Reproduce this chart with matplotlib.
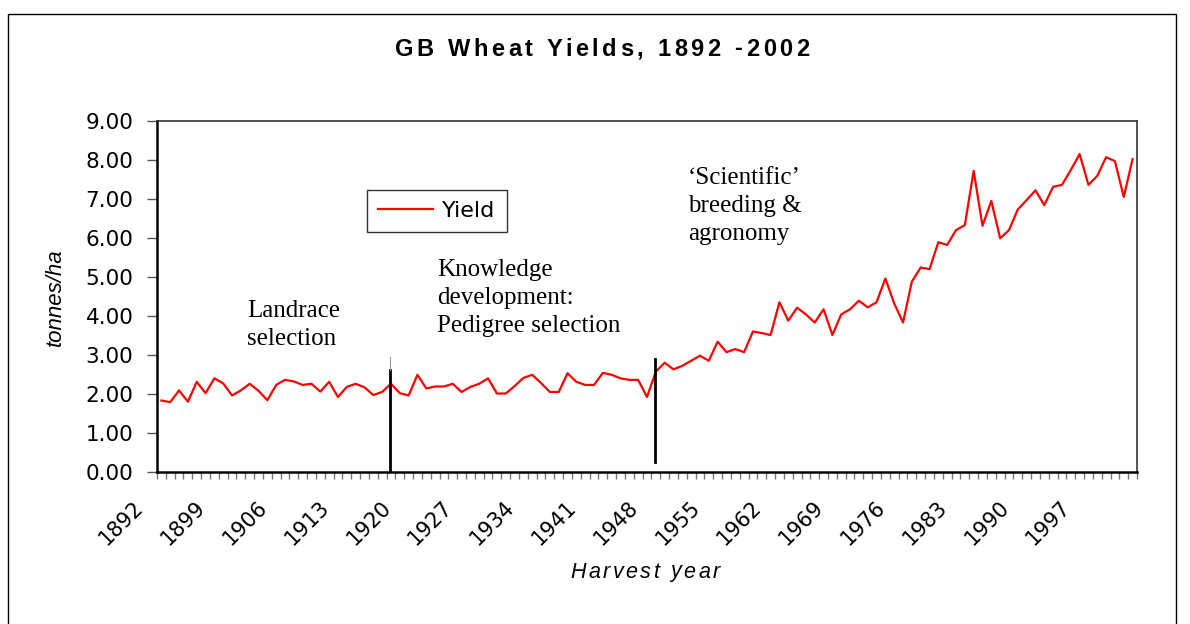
import numpy as np
import matplotlib
matplotlib.use('Agg')
import matplotlib.pyplot as plt
import matplotlib.transforms as mtransforms
from matplotlib.patches import Rectangle
from matplotlib.font_manager import FontProperties

years = list(range(1892, 2003))
yields = [
    1.84, 1.80, 2.10, 1.81, 2.32, 2.03, 2.41, 2.28, 1.97, 2.10,
    2.27, 2.09, 1.85, 2.24, 2.37, 2.33, 2.24, 2.27, 2.07, 2.32,
    1.93, 2.19, 2.27, 2.18, 1.98, 2.06, 2.27, 2.03, 1.97, 2.50,
    2.15, 2.20, 2.20, 2.27, 2.06, 2.19, 2.27, 2.41, 2.02, 2.02,
    2.21, 2.42, 2.50, 2.29, 2.06, 2.06, 2.54, 2.32, 2.24, 2.24,
    2.55, 2.50, 2.41, 2.37, 2.37, 1.93, 2.58, 2.81, 2.64, 2.73,
    2.86, 2.99, 2.86, 3.35, 3.08, 3.16, 3.08, 3.61, 3.57, 3.52,
    4.36, 3.89, 4.22, 4.05, 3.84, 4.18, 3.52, 4.05, 4.18, 4.40,
    4.23, 4.36, 4.97, 4.33, 3.84, 4.89, 5.25, 5.21, 5.90, 5.83,
    6.21, 6.34, 7.73, 6.32, 6.96, 6.00, 6.21, 6.74, 6.98, 7.23,
    6.85, 7.32, 7.37, 7.75, 8.16, 7.37, 7.60, 8.08, 7.98, 7.06,
    8.03,
]
label_years = years[::7]
y_ticks = [0, 1, 2, 3, 4, 5, 6, 7, 8, 9]

# era dividers: (year position, bottom, top)
dividers = [(1917.86, 0.0, 2.62), (1947.85, 0.27, 2.90)]

SANS = 'Liberation Sans'
WIDE = 'DejaVu Sans'
SERIF = 'Liberation Serif'

W, H = 1190, 624


def tracked_text(fig, x_px, y_px, s, track_px, **kw):
    # draw text with extra letter spacing, centred on (x_px, y_px)
    r = fig.canvas.get_renderer()
    prop = FontProperties(family=kw.get('family'), size=kw.get('fontsize'),
                          weight=kw.get('fontweight', 'normal'), style=kw.get('style', 'normal'))

    def width(t):
        return r.get_text_width_height_descent(t, prop, ismath=False)[0]

    bar = width('|')
    starts = [width(s[:i] + '|') - bar if i else 0.0 for i in range(len(s))]
    starts = [p + i * track_px for i, p in enumerate(starts)]
    total = width(s) + (len(s) - 1) * track_px
    x0 = x_px - total / 2
    for ch, p in zip(s, starts):
        if ch == ' ':
            continue
        fig.text((x0 + p) / W, 1 - y_px / H, ch, ha='left', va='center', **kw)


fig = plt.figure(figsize=(W / 100, H / 100), dpi=100)
fig.patches.append(Rectangle((8 / W, -0.1), (1176 - 8) / W, 1.1 - 14 / H,
                             transform=fig.transFigure, fill=False,
                             edgecolor='black', lw=1.0))

ax = fig.add_axes([157 / W, 1 - 472.3 / H, 980 / W, (472.3 - 121.3) / H])
ax.plot(years, yields, color='#ff0000', lw=1.6, label='Yield')

for pos, lo, hi in dividers:
    ax.plot([pos, pos], [lo, hi], color='black', lw=2.0)
ax.plot([dividers[0][0]] * 2, [dividers[0][2], 2.95], color='#999999', lw=0.8)

ax.set_xlim(1891.5, 2002.5)
ax.set_ylim(0, 9)
ax.set_yticks(y_ticks)
ax.set_yticklabels([f'{v:.2f}' for v in y_ticks], fontsize=15.5, family=WIDE)
ax.tick_params(axis='y', direction='out', length=7, width=1, color='#555555', pad=10)

ax.set_xticks(label_years)
ax.set_xticklabels([str(y) for y in label_years], fontsize=15, family=WIDE,
                   rotation=45, ha='right', va='center', rotation_mode='anchor')
ax.set_xticks([y - 0.5 for y in years] + [years[-1] + 0.5], minor=True)
ax.tick_params(axis='x', which='major', length=0, pad=23)
ax.tick_params(axis='x', which='minor', direction='out', length=5, width=1, color='#777777')
offset = mtransforms.ScaledTranslation(-21 / 100, 0, fig.dpi_scale_trans)
for lab in ax.get_xticklabels():
    lab.set_transform(lab.get_transform() + offset)

for side in ['left', 'bottom']:
    ax.spines[side].set_linewidth(1.8)
    ax.spines[side].set_color('black')
for side in ['top', 'right']:
    ax.spines[side].set_linewidth(1.2)
    ax.spines[side].set_color('#333333')

ax.set_ylabel('tonnes/ha', fontsize=16, family=SANS, style='italic', labelpad=14)

tracked_text(fig, 602, 49, 'GB Wheat Yields, 1892 -2002', 3.6,
             fontsize=17, fontweight='bold', family=SANS)
tracked_text(fig, 645, 572, 'Harvest year', 2.5,
             fontsize=15.5, style='italic', family=SANS)

leg = ax.legend(loc='upper left', bbox_to_anchor=(0.214, 0.804), borderaxespad=0,
                frameon=True, fancybox=False, handlelength=2.5, handletextpad=0.4,
                borderpad=0.5, prop={'family': WIDE, 'size': 16})
leg.get_frame().set_edgecolor('black')
leg.get_frame().set_linewidth(1.0)

ax.text(247 / W, 1 - 325 / H, 'Landrace\nselection', transform=fig.transFigure,
        ha='left', va='center', fontsize=18, family=SERIF, linespacing=1.36)
ax.text(437 / W, 1 - 298 / H, 'Knowledge\ndevelopment:\nPedigree selection',
        transform=fig.transFigure, ha='left', va='center', fontsize=18,
        family=SERIF, linespacing=1.36)
ax.text(688 / W, 1 - 206 / H, '\u2018Scientific\u2019\nbreeding &\nagronomy',
        transform=fig.transFigure, ha='left', va='center', fontsize=18,
        family=SERIF, linespacing=1.36)

fig.savefig('out.png', dpi=100)
